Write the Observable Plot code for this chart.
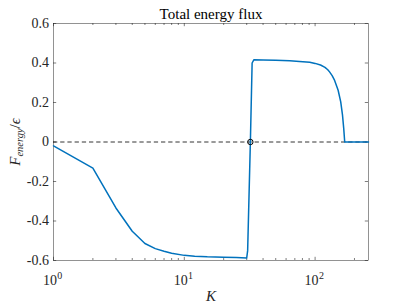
<!DOCTYPE html>
<html><head><meta charset="utf-8">
<script src="https://cdn.jsdelivr.net/npm/d3@7"></script>
<script src="https://cdn.jsdelivr.net/npm/@observablehq/plot@0.6"></script>
<style>body{margin:0;background:#fff}</style>
</head><body><div id="chart"></div>
<script>
// Data
const K = [1, 2, 3, 4, 5, 6, 7, 8, 10, 12, 15, 20, 25, 30, 30.5, 32, 33, 34, 40, 50, 64, 76, 91, 100, 110, 119, 125, 129, 135, 141, 150, 157, 162, 165.5, 168.4, 256];
const F = [-0.02, -0.132, -0.334, -0.452, -0.514, -0.540, -0.553, -0.563, -0.574, -0.578, -0.581, -0.583, -0.585, -0.587, -0.55, 0.0, 0.40, 0.416, 0.415, 0.414, 0.412, 0.408, 0.404, 0.398, 0.390, 0.378, 0.366, 0.355, 0.336, 0.312, 0.262, 0.203, 0.136, 0.069, 0.0, 0.0];
const crossK = [32];
const crossF = [0];
const yTicks = [-0.6, -0.4, -0.2, 0, 0.2, 0.4, 0.6];
const yTickLabels = ["-0.6", "-0.4", "-0.2", "0", "0.2", "0.4", "0.6"];
const xMajor = [1, 10, 100];
const xMajorBase = ["10", "10", "10"];
const xMajorExp = ["0", "1", "2"];
const xMinor = [2, 3, 4, 5, 6, 7, 8, 9, 20, 30, 40, 50, 60, 70, 80, 90, 200];
const title = "Total energy flux";
const xLabel = "K";

const W = 407, H = 305, mL = 53, mR = 39, mT = 23, mB = 45;
const pw = W - mL - mR, ph = H - mT - mB;
const axisColor = "#262626";

const series = K.map((k, i) => ({K: k, F: F[i]}));
const cross = crossK.map((k, i) => ({K: k, F: crossF[i]}));

const chart = Plot.plot({
  width: W, height: H,
  marginLeft: mL, marginRight: mR, marginTop: mT, marginBottom: mB,
  x: {type: "log", domain: [1, 256], axis: null},
  y: {domain: [-0.6, 0.6], axis: null},
  style: {fontFamily: "'Liberation Serif', 'DejaVu Serif', serif", fontSize: "14px", color: axisColor, background: "#fff", overflow: "visible"},
  marks: [
    Plot.frame({stroke: axisColor, strokeWidth: 0.5}),
    // x ticks (inward, bottom and top)
    Plot.ruleX(xMajor, {x: d => d, insetTop: ph - 3.2, stroke: axisColor, strokeWidth: 0.6}),
    Plot.ruleX(xMajor, {x: d => d, insetBottom: ph - 3.2, stroke: axisColor, strokeWidth: 0.6}),
    Plot.ruleX(xMinor, {x: d => d, insetTop: ph - 2, stroke: axisColor, strokeWidth: 0.6}),
    Plot.ruleX(xMinor, {x: d => d, insetBottom: ph - 2, stroke: axisColor, strokeWidth: 0.6}),
    // y ticks (inward, left and right)
    Plot.ruleY(yTicks, {y: d => d, insetRight: pw - 3.2, stroke: axisColor, strokeWidth: 0.6}),
    Plot.ruleY(yTicks, {y: d => d, insetLeft: pw - 3.2, stroke: axisColor, strokeWidth: 0.6}),
    // zero dashed line
    Plot.ruleY([0], {stroke: "#000", strokeWidth: 0.8, strokeDasharray: "4.3,2.9"}),
    // data
    Plot.line(series, {x: "K", y: "F", stroke: "#0072BD", strokeWidth: 1.5}),
    Plot.dot(cross, {x: "K", y: "F", r: 2.7, stroke: "#000", strokeWidth: 1, fill: "none"}),
    // y tick labels
    Plot.text(yTicks, {y: d => d, frameAnchor: "left", text: (d, i) => yTickLabels[i], textAnchor: "end", dx: -4.5, fill: axisColor, fontSize: 14}),
    // x tick labels 10^n
    Plot.text(xMajor, {x: d => d, frameAnchor: "bottom", text: (d, i) => xMajorBase[i], textAnchor: "end", lineAnchor: "bottom", dx: 3.5, dy: 24.5, fill: axisColor, fontSize: 14}),
    Plot.text(xMajor, {x: d => d, frameAnchor: "bottom", text: (d, i) => xMajorExp[i], textAnchor: "start", lineAnchor: "bottom", dx: 3.8, dy: 18.5, fill: axisColor, fontSize: 10}),
    // title and axis labels
    Plot.text([title], {frameAnchor: "top", text: d => d, lineAnchor: "bottom", dy: -5, fill: "#000", fontSize: 15}),
    Plot.text([xLabel], {frameAnchor: "bottom", text: d => d, lineAnchor: "bottom", dy: 40, fill: axisColor, fontSize: 15, fontStyle: "italic"}),
    Plot.text(["YLABEL"], {frameAnchor: "left", text: d => d, rotate: -90, textAnchor: "middle", lineAnchor: "bottom", dx: -34, fill: axisColor, fontSize: 15})
  ]
});

document.getElementById("chart").appendChild(chart);

// Rich y label: F_{energy}/ϵ
d3.select(chart).selectAll("text").filter(function () { return this.textContent === "YLABEL"; })
  .each(function () {
    const t = d3.select(this);
    t.text(null);
    t.append("tspan").attr("font-style", "italic").text("F");
    t.append("tspan").attr("font-style", "italic").attr("font-size", 10.5).attr("dy", 3).text("energy");
    t.append("tspan").attr("dy", -3).text("/");
    t.append("tspan").attr("font-style", "italic").text("ϵ");
  });
</script>
</body></html>
